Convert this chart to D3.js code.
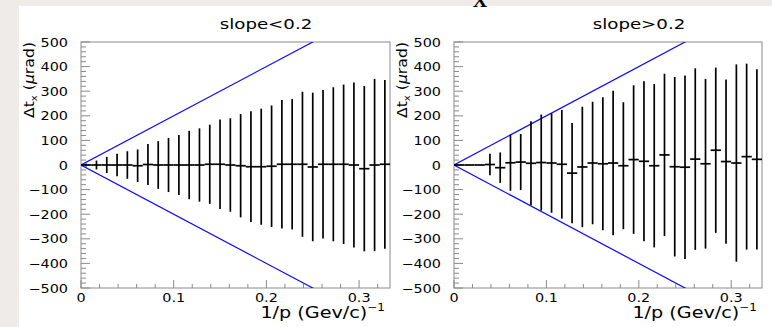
<!DOCTYPE html>
<html>
<head>
<meta charset="utf-8">
<script src="https://cdn.jsdelivr.net/npm/d3@7"></script>
<style>
  html, body { margin: 0; padding: 0; background: #efebe8; }
  svg { display: block; }
  text { font-family: "DejaVu Sans", sans-serif; fill: #000; }
</style>
</head>
<body>
<svg id="chart" width="772" height="327"></svg>
<script>
// 1/p bin centres (30 bins over 0 .. 1/3, width 1/90)
const binCenters = [0.0056, 0.0167, 0.0278, 0.0389, 0.0500, 0.0611, 0.0722, 0.0833, 0.0944, 0.1056,
                    0.1167, 0.1278, 0.1389, 0.1500, 0.1611, 0.1722, 0.1833, 0.1944, 0.2056, 0.2167,
                    0.2278, 0.2389, 0.2500, 0.2611, 0.2722, 0.2833, 0.2944, 0.3056, 0.3167, 0.3278];
const binWidth = 1 / 90;

// slope < 0.2 : mean residual and its spread per bin (μrad)
const lowMean = [0, 0, 0, 0, 0, -3, 2, 0, 0, 0,
                 0, 0, 3, 3, 0, -3, -7, -7, -5, 3,
                 3, 3, -8, 3, 3, 3, 0, -15, 0, 3];
const lowErr  = [6, 18, 33, 46, 56, 66, 83, 97, 110, 122,
                 139, 149, 161, 182, 190, 210, 225, 236, 247, 261,
                 265, 295, 302, 302, 313, 324, 335, 336, 350, 343];

// slope > 0.2
const highMean = [0, 0, 0, 2, -11, 9, 12, 7, 10, 8,
                  3, -33, -8, 8, 5, 8, -3, 22, 15, -3,
                  41, -7, -9, 24, 5, 60, 14, 8, 34, 23];
const highErr  = [0, 0, 0, 44, 62, 114, 114, 171, 195, 202,
                  221, 204, 245, 249, 270, 294, 258, 302, 325, 332,
                  330, 365, 373, 369, 345, 336, 334, 401, 378, 366];

const panelTitles = ["slope<0.2", "slope>0.2"];
const yTicks = [-500, -400, -300, -200, -100, 0, 100, 200, 300, 400, 500];
const xTicks = [0, 0.1, 0.2, 0.3];
const xDomain = [0, 1 / 3];
const yDomain = [-500, 500];
// resolution envelope: |Δt_x| = 2000 μrad·(GeV/c) × 1/p
const envelopeSlope = 2000;

const svg = d3.select("#chart");

// page background: grey margin on the left/top, white canvas
svg.append("rect").attr("x", 0).attr("y", 0).attr("width", 772).attr("height", 327).attr("fill", "#efebe8");
svg.append("rect").attr("x", 19).attr("y", 6).attr("width", 753).attr("height", 321).attr("fill", "#ffffff");
svg.append("text").attr("x", 480).attr("y", 7).attr("text-anchor", "middle")
  .style("font-family", "'Liberation Serif', serif").style("font-weight", "bold")
  .style("font-size", "20px").text("X");

const panels = [
  { left: 81, right: 390, title: panelTitles[0], titleX: 266, ylabX: 34, mean: lowMean, err: lowErr },
  { left: 454, right: 762, title: panelTitles[1], titleX: 639, ylabX: 407, mean: highMean, err: highErr }
];
const plotTop = 42, plotBottom = 288;

panels.forEach(p => {
  const x = d3.scaleLinear().domain(xDomain).range([p.left, p.right]);
  const y = d3.scaleLinear().domain(yDomain).range([plotBottom, plotTop]);
  const g = svg.append("g");

  // frame
  g.append("rect").attr("x", p.left).attr("y", plotTop)
    .attr("width", p.right - p.left).attr("height", plotBottom - plotTop)
    .attr("fill", "none").attr("stroke", "#8a8a8a").attr("stroke-width", 1);

  // y ticks (drawn inward)
  const yMinor = d3.range(-500, 501, 20);
  g.append("g").selectAll("line").data(yMinor).join("line")
    .attr("x1", p.left).attr("x2", d => p.left + (d % 100 === 0 ? 9 : 5))
    .attr("y1", d => y(d)).attr("y2", d => y(d))
    .attr("stroke", "#8a8a8a").attr("stroke-width", 1);

  // x ticks (drawn inward)
  const xMinor = d3.range(0, 17).map(i => i * 0.02);
  g.append("g").selectAll("line").data(xMinor).join("line")
    .attr("x1", d => x(d)).attr("x2", d => x(d))
    .attr("y1", plotBottom).attr("y2", d => plotBottom - (Math.abs(d * 10 - Math.round(d * 10)) < 1e-6 ? 8 : 4))
    .attr("stroke", "#8a8a8a").attr("stroke-width", 1);

  // tick labels
  g.append("g").selectAll("text").data(yTicks).join("text")
    .attr("transform", d => `translate(${p.left - 13},${y(d) + 4.5}) scale(1.2,1)`)
    .attr("text-anchor", "end").style("font-size", "12px")
    .text(d => d < 0 ? "\u2212" + Math.abs(d) : String(d));
  g.append("g").selectAll("text").data(xTicks).join("text")
    .attr("transform", d => `translate(${x(d)},${plotBottom + 14}) scale(1.2,1)`)
    .attr("text-anchor", "middle").style("font-size", "12px")
    .text(d => d === 0 ? "0" : d3.format(".1f")(d));

  // envelope lines, clipped to the frame
  const clipId = "clip" + p.left;
  svg.append("clipPath").attr("id", clipId).append("rect")
    .attr("x", p.left).attr("y", plotTop).attr("width", p.right - p.left).attr("height", plotBottom - plotTop);
  const env = g.append("g").attr("clip-path", `url(#${clipId})`);
  [1, -1].forEach(s => {
    env.append("line")
      .attr("x1", x(0)).attr("y1", y(0))
      .attr("x2", x(xDomain[1])).attr("y2", y(s * envelopeSlope * xDomain[1]))
      .attr("stroke", "#0a0aff").attr("stroke-width", 1.2);
  });

  // error bars: horizontal = bin width, vertical = spread
  const pts = binCenters.map((c, i) => ({ c, m: p.mean[i], e: p.err[i] }));
  const eb = g.append("g").attr("stroke", "#000").attr("stroke-width", 1.7);
  eb.selectAll("line.h").data(pts).join("line").attr("class", "h")
    .attr("x1", d => x(d.c - binWidth / 2)).attr("x2", d => x(d.c + binWidth / 2))
    .attr("y1", d => y(d.m)).attr("y2", d => y(d.m));
  eb.selectAll("line.v").data(pts.filter(d => d.e > 0)).join("line").attr("class", "v")
    .attr("x1", d => x(d.c)).attr("x2", d => x(d.c))
    .attr("y1", d => y(d.m - d.e)).attr("y2", d => y(d.m + d.e));

  // title
  g.append("text").attr("transform", `translate(${p.titleX},${29}) scale(1.3,1)`)
    .attr("text-anchor", "middle").style("font-size", "14px").text(p.title);

  // y axis label
  const yl = g.append("text")
    .attr("transform", `translate(${p.ylabX},${42}) rotate(-90) scale(1.12,1)`)
    .attr("text-anchor", "end").style("font-size", "14px");
  yl.append("tspan").text("\u0394t");
  yl.append("tspan").attr("dy", 3).style("font-size", "9px").text("x");
  yl.append("tspan").attr("dy", -3).text(" (");
  yl.append("tspan").style("font-style", "italic").text("\u03bc");
  yl.append("tspan").text("rad)");

  // x axis label
  const xl = g.append("text")
    .attr("transform", `translate(${p.right - 5},${318}) scale(1.2,1)`)
    .attr("text-anchor", "end").style("font-size", "16px");
  xl.append("tspan").text("1/p (Gev/c)");
  xl.append("tspan").attr("dy", -7).style("font-size", "10px").text("\u22121");
});
</script>
</body>
</html>
